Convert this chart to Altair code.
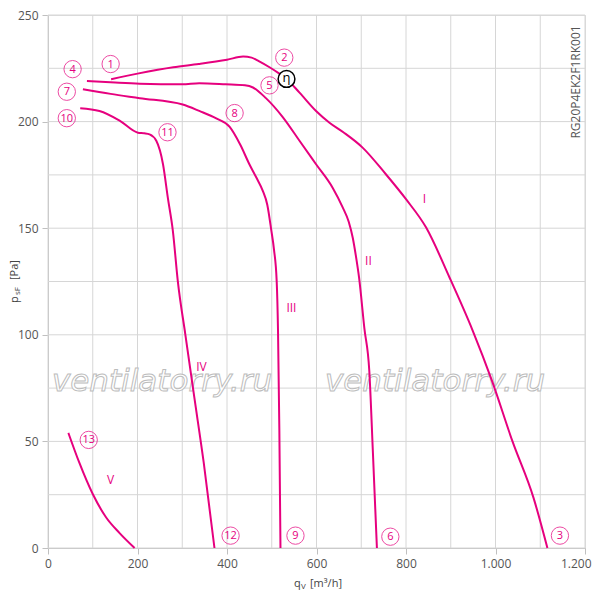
import altair as alt
import pandas as pd

MAG = "#e6007e"
FONT = "Open Sans"

# ---- curve data (qV [m3/h], psF [Pa]) ----
c1_x = [141, 200, 280, 337, 400, 436, 455, 471, 495, 517, 533, 562, 599, 629, 660, 703, 755, 800, 845, 897, 949, 992, 1038, 1085, 1116]
c1_y = [219.9, 222.5, 225.5, 227, 229, 230.5, 230, 228.4, 225.5, 222.5, 220, 213.6, 205, 199.5, 195, 187.8, 175.3, 163.6, 150.3, 127, 102, 78.5, 50, 23.5, 0]

c2_x = [87, 150, 205, 300, 338, 397, 440, 458, 487, 525, 562, 599, 636, 658, 672, 681, 688, 695, 707, 718, 726, 735]
c2_y = [219, 218.3, 217.8, 217.5, 218, 217.5, 217, 216, 211, 202, 191, 180, 169, 160, 153, 145.5, 137, 127, 103, 83, 45, 0]

c3_x = [78, 140, 205, 301, 338, 376, 406, 430, 450, 465, 480, 490, 499, 505, 511, 514, 517, 519.5]
c3_y = [215.2, 213, 211, 208, 205, 201.5, 197.5, 189, 180, 174, 167.5, 161, 149, 140, 125.3, 102, 55, 0]

c4_x = [72, 115, 160, 201, 215, 227, 242, 257, 268, 279, 290, 307, 327, 348, 372]
c4_y = [206.3, 205, 200.5, 194.8, 194.5, 194, 191, 180, 164, 148.8, 125.3, 100, 70.6, 40, 0]

c5_x = [45.5, 70, 100, 130, 160, 193.5]
c5_y = [54, 40, 25.3, 14.3, 7, 0]

curves = []
for name, xs_, ys_ in [("I", c1_x, c1_y), ("II", c2_x, c2_y), ("III", c3_x, c3_y),
                       ("IV", c4_x, c4_y), ("V", c5_x, c5_y)]:
    for i, (a, b) in enumerate(zip(xs_, ys_)):
        curves.append({"curve": name, "i": i, "q": a, "p": b})
curve_df = pd.DataFrame(curves)

# ---- numbered circle labels ----
num_text = ["1", "2", "3", "4", "5", "6", "7", "8", "9", "10", "11", "12", "13"]
num_x = [140, 528, 1144, 55, 495, 765, 42, 417, 553, 42, 267, 408, 91]
num_y = [227, 230, 5.8, 224.6, 217, 5.3, 214, 204, 5.8, 201.6, 195, 5.8, 50.7]
num_df = pd.DataFrame({"t": num_text, "q": num_x, "p": num_y})

# ---- roman numerals ----
rom_text = ["I", "II", "III", "IV", "V"]
rom_x = [841, 716, 544, 343, 140]
rom_y = [163.6, 134.5, 112.5, 85, 32]
rom_df = pd.DataFrame({"t": rom_text, "q": rom_x, "p": rom_y})

# efficiency marker
eta_df = pd.DataFrame({"t": ["η"], "q": [533], "p": [220]})

# grid / ticks
x_grid = list(range(0, 1201, 100))
y_grid = list(range(0, 251, 25))
x_ticks = list(range(0, 1201, 200))
y_ticks = list(range(0, 251, 50))

W, H = 537, 533
xs = alt.Scale(domain=[0, 1200], nice=False)
ys = alt.Scale(domain=[0, 250], nice=False)

grid_v = alt.Chart(pd.DataFrame({"q": x_grid})).mark_rule(color="#d6d6d6", strokeWidth=1).encode(
    x=alt.X("q:Q", scale=xs))
grid_h = alt.Chart(pd.DataFrame({"p": y_grid})).mark_rule(color="#d6d6d6", strokeWidth=1).encode(
    y=alt.Y("p:Q", scale=ys))

# watermark
wm = alt.Chart(pd.DataFrame({"t": ["ventilatorry.ru", "ventilatorry.ru"], "px": [114, 387]})).mark_text(
    font="DejaVu Sans", fontStyle="italic", fontSize=31, fill="white", stroke="#bcbcbc",
    strokeWidth=1, align="center", baseline="alphabetic").encode(
    x=alt.X("px:Q", scale=None), y=alt.value(376), text="t:N")

last_test = "datum.value == 1200"
lines = alt.Chart(curve_df).mark_line(color=MAG, strokeWidth=2, interpolate="monotone").encode(
    x=alt.X("q:Q", scale=xs,
            axis=alt.Axis(values=x_ticks, grid=False, title=None, domainColor="#c0c0c0",
                          tickColor="#c0c0c0", tickSize=6, labelPadding=4, labelFont=FONT,
                          labelFontSize=12, labelColor="#555555", labelFlush=False,
                          labelAlign={"condition": {"test": last_test, "value": "right"}, "value": "center"},
                          labelOffset={"condition": {"test": last_test, "value": 6}, "value": 0},
                          labelExpr="replace(format(datum.value, ','), ',', '.')")),
    y=alt.Y("p:Q", scale=ys,
            axis=alt.Axis(values=y_ticks, grid=False, title=None, domainColor="#c0c0c0",
                          tickColor="#c0c0c0", tickSize=6, labelPadding=4, labelFont=FONT,
                          labelFontSize=12, labelColor="#555555", labelFlush=False)),
    detail="curve:N", order="i:Q")

circ = alt.Chart(num_df).mark_point(shape="circle", size=300, filled=False, color=MAG, strokeWidth=1).encode(
    x=alt.X("q:Q", scale=xs), y=alt.Y("p:Q", scale=ys))
circ_t = alt.Chart(num_df).mark_text(color=MAG, font=FONT, fontSize=11, baseline="middle", dy=0.5).encode(
    x=alt.X("q:Q", scale=xs), y=alt.Y("p:Q", scale=ys), text="t:N")

rom = alt.Chart(rom_df).mark_text(color=MAG, font=FONT, fontSize=12, baseline="middle").encode(
    x=alt.X("q:Q", scale=xs), y=alt.Y("p:Q", scale=ys), text="t:N")

eta_c = alt.Chart(eta_df).mark_point(shape="circle", size=280, filled=True, fill="white", stroke="black",
                                     strokeWidth=1.5, opacity=1).encode(
    x=alt.X("q:Q", scale=xs), y=alt.Y("p:Q", scale=ys))
eta_t = alt.Chart(eta_df).mark_text(color="black", font=FONT, fontSize=13, baseline="middle", dy=-1).encode(
    x=alt.X("q:Q", scale=xs), y=alt.Y("p:Q", scale=ys), text="t:N")

# axis titles with subscripts
def txt(s, x, y, size, angle=0, color="#444444", align="left"):
    return alt.Chart(pd.DataFrame({"t": [s]})).mark_text(
        font=FONT, fontSize=size, color=color, align=align, baseline="middle", angle=angle).encode(
        x=alt.value(x), y=alt.value(y), text="t:N")

titles = [
    txt("p", -33, 288, 11, angle=270),
    txt("sF", -30, 280, 8, angle=270),
    txt("[Pa]", -33, 265, 11, angle=270),
    txt("q", 246, 569, 11),
    txt("V", 253, 572, 8),
    txt("[m³/h]", 262, 569, 11),
    txt("RG20P4EK2F1RK001", 528, 67, 12, angle=270, color="#555555", align="center"),
]

chart = alt.layer(grid_v, grid_h, wm, lines, circ, circ_t, rom, eta_c, eta_t, *titles).properties(
    width=W, height=H,
    autosize=alt.AutoSizeParams(type="none"),
    padding={"left": 40, "top": 7, "right": 7, "bottom": 42},
).configure_view(stroke=None).configure(background="white")

chart.save("out.html", embed_options={"renderer": "svg", "actions": False})
